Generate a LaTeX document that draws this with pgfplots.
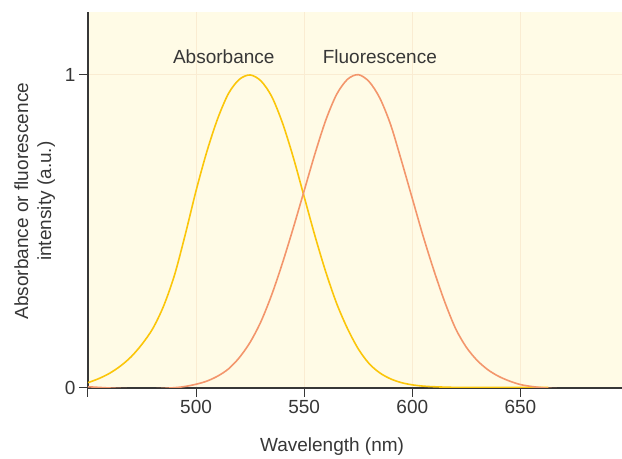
\documentclass[border=0pt]{standalone}
\usepackage{pgfplots}
\pgfplotsset{compat=1.18}
\usepackage{fontspec}
\setmainfont{Liberation Sans}

\definecolor{bgc}{RGB}{255,251,230}
\definecolor{gridc}{RGB}{250,236,210}
\definecolor{textc}{RGB}{55,55,55}
\definecolor{absc}{RGB}{251,198,10}
\definecolor{fluc}{RGB}{243,150,108}

\begin{document}
\begin{tikzpicture}
\begin{axis}[
    width=534pt, height=376pt, scale only axis,
    xmin=450, xmax=697, ymin=0, ymax=1.2,
    axis x line*=bottom, axis y line*=left,
    axis background/.style={fill=bgc},
    xtick={450,500,550,600,650},
    xticklabels={,500,550,600,650},
    ytick={0,1},
    grid=major,
    major grid style={gridc, line width=0.7pt},
    tick align=outside,
    major tick length=9pt,
    tick style={textc, line width=1pt},
    axis line style={textc, line width=1.1pt},
    ticklabel style={font=\fontsize{19}{22}\selectfont, text=textc},
    /pgf/number format/assume math mode=true,
    xlabel={Wavelength (nm)},
    xlabel style={at={(axis description cs:0.457,-0.170)}, anchor=base,
        font=\fontsize{19}{22}\selectfont, text=textc},
    ylabel={Absorbance or fluorescence\\intensity (a.u.)},
    ylabel style={at={(axis description cs:-0.100,0.497)}, anchor=center,
        align=center, font=\fontsize{19}{23}\selectfont, text=textc},
]
% absorbance
\addplot[absc, line width=1.6pt, smooth] coordinates {
 (450,0.017) (455,0.030) (460,0.047) (465,0.070) (470,0.100) (475,0.140)
 (480,0.190) (485,0.262) (490,0.360) (495,0.490) (500,0.630) (505,0.755)
 (510,0.860) (515,0.940) (520,0.985) (525,0.999) (530,0.980) (535,0.930)
 (540,0.845) (545,0.735) (550,0.610) (555,0.485) (560,0.370) (565,0.270)
 (570,0.190) (575,0.125) (580,0.078) (585,0.048) (590,0.029) (595,0.017)
 (600,0.010) (605,0.006) (610,0.004) (620,0.002) (640,0.002) (663,0.002)
};
% fluorescence
\addplot[fluc, line width=1.6pt, smooth] coordinates {
 (450,0.004) (460,0.0) (470,-0.003) (480,-0.003) (490,0.001) (495,0.005)
 (500,0.012) (505,0.022) (510,0.038) (515,0.061) (520,0.097) (525,0.146)
 (530,0.212) (535,0.298) (540,0.400) (545,0.512) (550,0.630) (555,0.748)
 (560,0.855) (565,0.937) (570,0.985) (575,1.0) (580,0.978) (585,0.925)
 (590,0.840) (595,0.725) (600,0.605) (605,0.485) (610,0.375) (615,0.275)
 (620,0.190) (625,0.130) (630,0.088) (635,0.058) (640,0.037) (645,0.022)
 (650,0.011) (655,0.005) (660,0.001) (665,-0.002) (675,-0.004) (697,-0.004)
};
\node[anchor=base, font=\fontsize{19}{22}\selectfont, text=textc]
    at (512.8,1.035) {Absorbance};
\node[anchor=base, font=\fontsize{19}{22}\selectfont, text=textc]
    at (585.0,1.035) {Fluorescence};
\end{axis}
\pgfresetboundingbox
\path ([shift={(-88pt,-71pt)}]current axis.south west)
    rectangle ([shift={(0pt,12pt)}]current axis.north east);
\end{tikzpicture}
\end{document}
